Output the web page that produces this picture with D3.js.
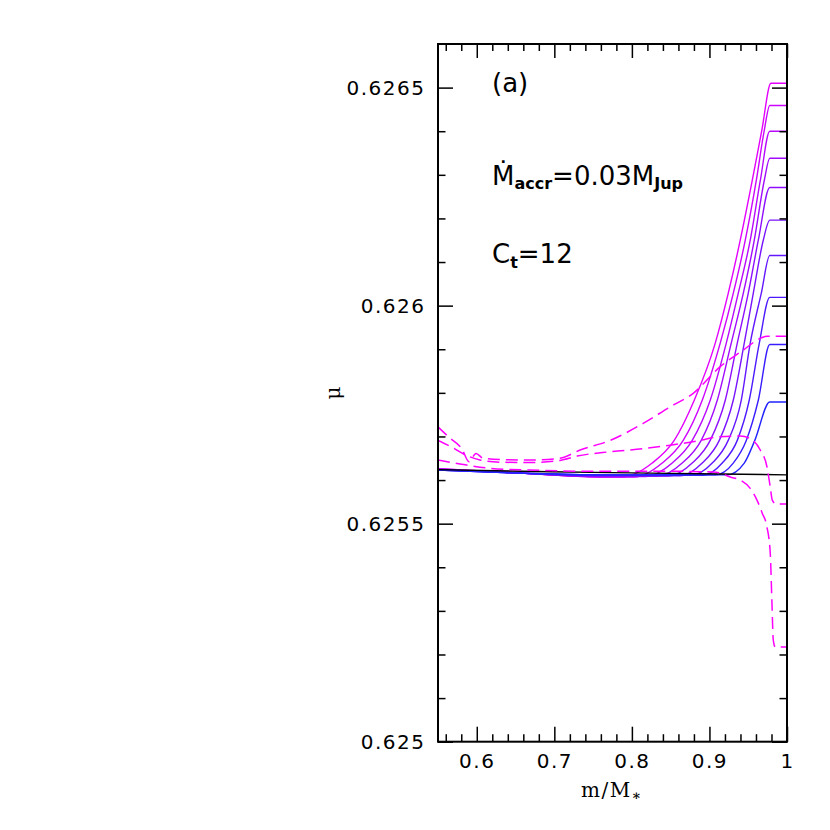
<!DOCTYPE html>
<html>
<head>
<meta charset="utf-8">
<script src="https://cdn.jsdelivr.net/npm/d3@7"></script>
<style>
  body { margin: 0; background: #fff; }
  text { fill: #000; }
</style>
</head>
<body>
<svg id="chart" width="830" height="830"></svg>
<script>
// ticks
let xMajorTicks = [0.6, 0.7, 0.8, 0.9, 1];
let xTickLabels = ['0.6', '0.7', '0.8', '0.9', '1'];
let xMinorTicks = [0.56, 0.58, 0.62, 0.64, 0.66, 0.68, 0.72, 0.74, 0.76, 0.78,
                   0.82, 0.84, 0.86, 0.88, 0.92, 0.94, 0.96, 0.98];
let yMajorTicks = [0.625, 0.6255, 0.626, 0.6265];
let yTickLabels = ['0.625', '0.6255', '0.626', '0.6265'];
let yMinorTicks = [0.6251, 0.6252, 0.6253, 0.6254, 0.6256, 0.6257, 0.6258, 0.6259,
                   0.6261, 0.6262, 0.6263, 0.6264];

// solid curves, 1 = top (magenta) ... 10 = bottom (blue)
let startMu   = [0.625626, 0.625626, 0.625625, 0.625625, 0.625624, 0.625624, 0.625624, 0.625623, 0.625623, 0.625623];
let midMu     = [0.625616, 0.625616, 0.625616, 0.625616, 0.625616, 0.625616, 0.625616, 0.625616, 0.625616, 0.625616];
let flatMu    = [0.625607, 0.625607, 0.625608, 0.625609, 0.625609, 0.625610, 0.625611, 0.625611, 0.625612, 0.625612];
let departMass = [0.7874, 0.8029, 0.8171, 0.8326, 0.8468, 0.8623, 0.8765, 0.8920, 0.9075, 0.9229];
// mu levels where the rising branches were read
let levelMu = [0.625639, 0.625691, 0.625783, 0.625914, 0.626028, 0.626150, 0.626287, 0.626402];
let crossMass = [
    [0.8262, 0.8546, 0.8804, 0.9075, 0.9242, 0.9397, 0.9552, 0.9675],
    [0.8391, 0.8662, 0.8907, 0.9139, 0.9307, 0.9462, 0.9604, 0.9707],
    [0.8520, 0.8778, 0.9010, 0.9217, 0.9371, 0.9526, 0.9656],
    [0.8649, 0.8894, 0.9101, 0.9281, 0.9436, 0.9578, 0.9707],
    [0.8778, 0.9010, 0.9204, 0.9359, 0.9500, 0.9630],
    [0.8907, 0.9127, 0.9307, 0.9449, 0.9565, 0.9694],
    [0.9036, 0.9242, 0.9410, 0.9526, 0.9668],
    [0.9165, 0.9359, 0.9513, 0.9643],
    [0.9307, 0.9475, 0.9630],
    [0.9449, 0.9585]
];
let cornerMass = [0.9793, 0.9778, 0.9778, 0.9778, 0.9778, 0.9778, 0.9778, 0.9778, 0.9778, 0.9778];
let plateauMu  = [0.626510, 0.626459, 0.626400, 0.626338, 0.626271, 0.626196, 0.626115, 0.626019, 0.625911, 0.625779];

// black reference line
let blackMass = [0.55, 0.6945, 0.8236, 1.0];
let blackMu   = [0.625624, 0.625619, 0.625616, 0.625612];

// dashed curves
let dashAMass = [0.55, 0.5642, 0.5810, 0.5900, 0.5990, 0.6081, 0.6300, 0.6687, 0.7074, 0.7333,
                 0.7720, 0.8146, 0.8494, 0.8791, 0.9139, 0.9436, 0.9655, 0.9746, 1.0];
let dashAMu   = [0.625722, 0.625698, 0.625671, 0.625642, 0.625661, 0.625650, 0.625647, 0.625646, 0.625650, 0.625669,
                 0.625691, 0.625730, 0.625768, 0.625799, 0.625860, 0.625898, 0.625925, 0.625930, 0.625930];
let dashBMass = [0.55, 0.5681, 0.5861, 0.6042, 0.6300, 0.6687, 0.7074, 0.7294, 0.7720, 0.8146,
                 0.8494, 0.8881, 0.9101, 0.9397, 0.9526, 0.9655, 0.9742, 0.9784, 0.9810, 0.9862, 1.0];
let dashBMu   = [0.625691, 0.625675, 0.625657, 0.625646, 0.625641, 0.625640, 0.625645, 0.625655, 0.625665, 0.625672,
                 0.625680, 0.625691, 0.625699, 0.625701, 0.625695, 0.625669, 0.625630, 0.625584, 0.625554, 0.625545, 0.625545];
let dashCMass = [0.55, 0.5784, 0.6171, 0.6687, 0.7591, 0.8623, 0.9088, 0.9268, 0.9397, 0.9526,
                 0.9613, 0.9681, 0.9742, 0.9784, 0.9806, 0.9823, 0.9849, 1.0];
let dashCMu   = [0.625646, 0.625637, 0.625627, 0.625623, 0.625620, 0.625620, 0.625618, 0.625607, 0.625600, 0.625581,
                 0.625554, 0.625524, 0.625492, 0.625433, 0.625318, 0.625233, 0.625217, 0.625217];

let svg = d3.select('#chart');
let plotLeft = 438, plotRight = 787, plotTop = 44, plotBottom = 741.7;

let x = d3.scaleLinear().domain([0.55, 1]).range([plotLeft, plotRight]);
let y = d3.scaleLinear().domain([0.625, 0.6266]).range([plotBottom, plotTop]);

svg.append('defs').append('clipPath').attr('id', 'plot')
    .append('rect').attr('x', plotLeft).attr('y', plotTop)
    .attr('width', plotRight - plotLeft).attr('height', plotBottom - plotTop);

let line = d3.line()
    .x(d => x(d[0]))
    .y(d => y(d[1]))
    .curve(d3.curveMonotoneX);

let plot = svg.append('g').attr('clip-path', 'url(#plot)');

let color = d3.interpolateRgb('#e400ff', '#2222ff');

// solid curves, magenta first so blue ends on top
d3.range(10).forEach(i => {
    let pts = [[0.55, startMu[i]], [0.656, midMu[i]], [0.759, flatMu[i]], [departMass[i], flatMu[i]]];
    crossMass[i].forEach((m, j) => pts.push([m, levelMu[j]]));
    pts.push([cornerMass[i], plateauMu[i]]);
    pts.push([1, plateauMu[i]]);
    plot.append('path')
        .attr('d', line(pts))
        .attr('fill', 'none')
        .attr('stroke', color(i / 9))
        .attr('stroke-width', 1.4);
});

plot.append('path')
    .attr('d', line(blackMass.map((m, i) => [m, blackMu[i]])))
    .attr('fill', 'none')
    .attr('stroke', '#000')
    .attr('stroke-width', 1.4);

[[dashAMass, dashAMu], [dashBMass, dashBMu], [dashCMass, dashCMu]].forEach(s => {
    plot.append('path')
        .attr('d', line(s[0].map((m, i) => [m, s[1][i]])))
        .attr('fill', 'none')
        .attr('stroke', '#ff00ff')
        .attr('stroke-width', 1.5)
        .attr('stroke-dasharray', '12,6');
});

// axes, ticks pointing inward
function axis(gen, tr, values, size, labels, pad) {
    let g = svg.append('g').attr('transform', tr)
        .call(gen.tickValues(values).tickSize(size).tickPadding(pad || 3)
            .tickFormat((d, i) => labels ? labels[i] : ''));
    g.select('.domain').remove();
    g.selectAll('.tick line').attr('stroke', '#000').attr('stroke-width', 1.5);
    g.selectAll('.tick text')
        .attr('font-family', '"DejaVu Sans", sans-serif')
        .attr('font-size', 20)
        .attr('letter-spacing', 1.5)
        .attr('fill', '#000');
    return g;
}

axis(d3.axisBottom(x), `translate(0,${plotBottom})`, xMajorTicks, -15, xTickLabels, 12);
axis(d3.axisBottom(x), `translate(0,${plotBottom})`, xMinorTicks, -7.5);
axis(d3.axisTop(x), `translate(0,${plotTop})`, xMajorTicks, -14);
axis(d3.axisTop(x), `translate(0,${plotTop})`, xMinorTicks, -7);
axis(d3.axisLeft(y), `translate(${plotLeft},0)`, yMajorTicks, -15, yTickLabels, 12.5);
axis(d3.axisLeft(y), `translate(${plotLeft},0)`, yMinorTicks, -7.5);
axis(d3.axisRight(y), `translate(${plotRight},0)`, yMajorTicks, -15);
axis(d3.axisRight(y), `translate(${plotRight},0)`, yMinorTicks, -7.5);

svg.append('rect')
    .attr('x', plotLeft).attr('y', plotTop)
    .attr('width', plotRight - plotLeft).attr('height', plotBottom - plotTop)
    .attr('fill', 'none').attr('stroke', '#000').attr('stroke-width', 2);

// labels
let sans = '"DejaVu Sans", sans-serif';
let serif = '"DejaVu Serif", serif';

svg.append('text')
    .attr('x', 612).attr('y', 797)
    .attr('text-anchor', 'middle')
    .attr('font-family', serif).attr('font-size', 20).attr('letter-spacing', 1.5)
    .text('m/M')
    .append('tspan').attr('dy', 3).attr('font-size', 14).attr('font-weight', 'bold').text('∗');

svg.append('text')
    .attr('transform', 'translate(340,393) rotate(-90)')
    .attr('text-anchor', 'middle')
    .attr('font-family', serif).attr('font-size', 20)
    .text('μ');

let note = svg.append('g').attr('font-family', sans).attr('font-size', 26);

note.append('text').attr('x', 492).attr('y', 92).text('(a)');

let t1 = note.append('text').attr('x', 492).attr('y', 185);
t1.append('tspan').text('Ṁ');
t1.append('tspan').attr('dy', 4).attr('font-size', 16).attr('font-weight', 'bold').text('accr');
t1.append('tspan').attr('dy', -4).text('=0.03M');
t1.append('tspan').attr('dy', 4).attr('font-size', 16).attr('font-weight', 'bold').text('Jup');

let t2 = note.append('text').attr('x', 492).attr('y', 263);
t2.append('tspan').text('C');
t2.append('tspan').attr('dy', 5).attr('font-size', 16).attr('font-weight', 'bold').text('t');
t2.append('tspan').attr('dy', -5).text('=12');
</script>
</body>
</html>
